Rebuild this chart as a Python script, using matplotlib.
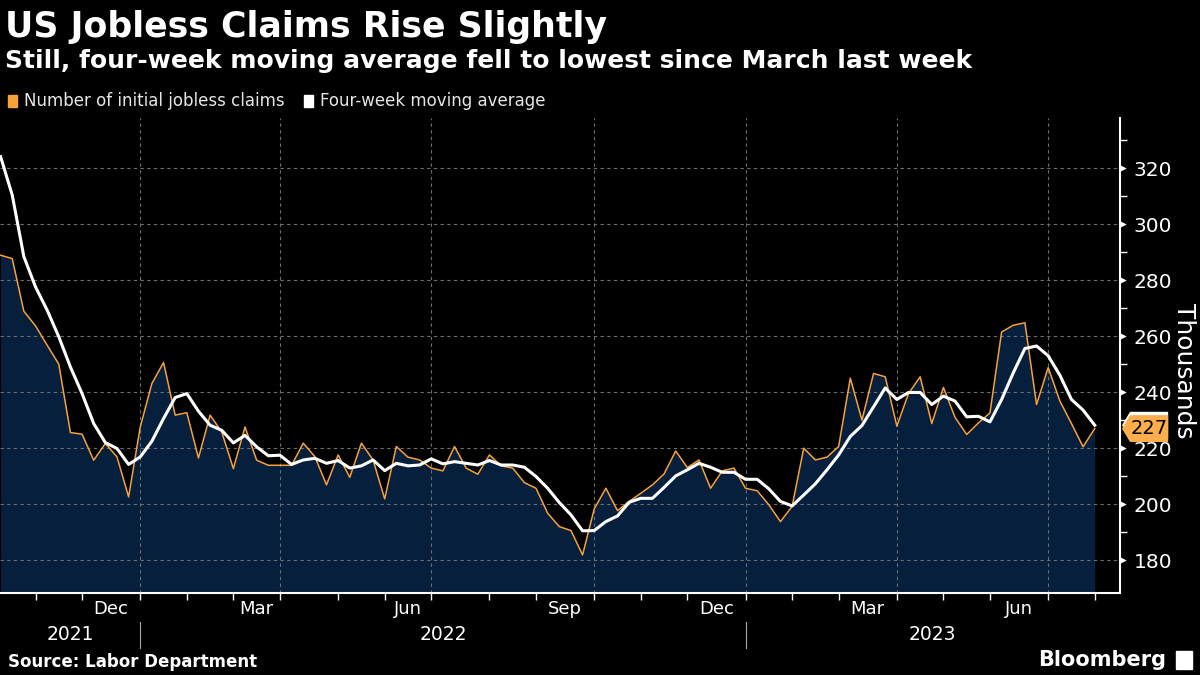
import numpy as np
import pandas as pd
import matplotlib
matplotlib.use("Agg")
import matplotlib.pyplot as plt
from matplotlib.patches import Polygon
from matplotlib.transforms import blended_transform_factory

# weekly initial jobless claims (thousands), weeks ending Saturday from 2021-10-09
claims = [288.9, 287.7, 268.9, 263.7, 256.8, 250.0, 225.6, 225.0, 215.7, 221.7,
          216.9, 202.6, 227.6, 243.1, 250.6, 231.8, 232.7, 216.5, 231.8, 225.8,
          212.7, 227.6, 215.7, 213.9, 213.9, 213.9, 221.8, 217.0, 206.9, 217.6,
          209.6, 221.8, 215.8, 201.9, 220.6, 216.8, 215.8, 212.9, 211.9, 220.6,
          212.9, 210.7, 217.6, 213.7, 212.9, 207.7, 205.7, 196.8, 192.0, 190.6,
          181.9, 198.3, 205.7, 197.7, 201.0, 203.9, 206.9, 210.8, 219.0, 213.1,
          215.8, 205.7, 211.9, 212.9, 205.7, 204.8, 199.8, 193.8, 199.2, 220.0,
          215.8, 216.8, 220.6, 245.0, 230.0, 246.7, 245.5, 227.9, 239.5, 245.5,
          228.8, 241.7, 231.0, 224.9, 229.0, 232.6, 261.5, 263.9, 264.8, 235.6,
          248.8, 236.9, 228.8, 220.5, 227.0]
moving_avg = [324.1, 310.4, 288.4, 277.6, 269.3, 259.8, 249.0, 239.5, 228.8, 222.0,
              219.9, 214.2, 216.9, 222.5, 230.6, 238.1, 239.5, 233.2, 228.2, 226.4,
              221.9, 224.6, 220.5, 217.3, 217.5, 214.2, 215.8, 216.4, 214.6, 215.6,
              212.9, 213.7, 215.8, 212.0, 214.6, 213.7, 214.0, 216.2, 214.4, 215.2,
              214.6, 214.0, 215.6, 214.0, 214.0, 213.2, 209.9, 205.7, 200.6, 196.2,
              190.5, 190.6, 193.8, 195.8, 200.7, 202.1, 202.1, 206.0, 210.1, 212.3,
              214.6, 213.2, 211.4, 211.4, 208.9, 208.9, 205.5, 201.0, 199.4, 203.3,
              207.3, 212.3, 217.6, 224.2, 228.1, 234.8, 241.5, 237.4, 239.9, 239.9,
              235.6, 238.6, 236.8, 231.2, 231.4, 229.4, 237.4, 246.9, 255.6, 256.5,
              253.0, 246.1, 237.4, 233.6, 228.2]
first_week = "2021-10-09"
y_ticks = [180, 200, 220, 240, 260, 280, 300, 320]
last_label = "227"

orange = "#f5a23a"
tag_orange = "#ffad4d"
navy = "#061f3d"
grid_c = "#6e6e6e"

weeks = pd.date_range(first_week, periods=len(claims), freq="7D")
x = np.arange(len(claims))

fig = plt.figure(figsize=(12, 6.75), dpi=100, facecolor="black")
ax = fig.add_axes([0, 82 / 675, 1120 / 1200, 475 / 675])
ax.set_facecolor("black")

ymin, ymax = 168.3, 337.9
ax.fill_between(x, claims, ymin, color=navy, lw=0, zorder=1)
ax.plot(x, claims, color=orange, lw=1.1, zorder=3)
ax.plot(x, moving_avg, color="white", lw=2.2, zorder=4)
ax.set_ylim(ymin, ymax)
ax.set_xlim(-0.05, 96.17)

# month ticks sit on the last weekly point on or before the 1st of each month
months = pd.date_range("2021-11-01", "2023-08-01", freq="MS")
month_idx = [int(np.searchsorted(weeks, m, side="right") - 1) for m in months]
ax.set_xticks(month_idx, minor=True)
lab_pos, lab_txt = [], []
for i, m in enumerate(months[:-1]):
    if m.month in (12, 3, 6, 9):
        lab_pos.append((month_idx[i] + month_idx[i + 1]) / 2)
        lab_txt.append(m.strftime("%b"))
ax.set_xticks(lab_pos)
ax.set_xticklabels(lab_txt)
ax.tick_params(axis="x", which="major", length=0, pad=5, colors="white", labelsize=13)
ax.tick_params(axis="x", which="minor", length=5, width=1, colors="white")

for i, m in enumerate(months):
    if m.month in (1, 4, 7, 10):
        ax.axvline(month_idx[i], color=grid_c, lw=0.8, ls=(0, (3, 3)), zorder=2)

# year row
trans = blended_transform_factory(ax.transData, ax.transAxes)
jan_idx = [month_idx[i] for i, m in enumerate(months) if m.month == 1]
bounds = [ax.get_xlim()[0]] + jan_idx + [ax.get_xlim()[1]]
for k, yr in enumerate(["2021", "2022", "2023"]):
    ax.text((bounds[k] + bounds[k + 1]) / 2, -0.088, yr, transform=trans, color="white",
            fontsize=13.5, ha="center", va="center")
for j in jan_idx:
    ax.plot([j, j], [-0.061, -0.115], transform=trans, color="#aaaaaa", lw=0.8, clip_on=False)

# right y axis
ax.yaxis.tick_right()
ax.set_yticks(y_ticks)
ax.set_yticks([v + 10 for v in y_ticks[:-1]] + [330], minor=True)
ax.tick_params(axis="y", which="major", length=0, pad=10, colors="white", labelsize=14.5)
ax.tick_params(axis="y", which="minor", length=5, width=1, colors="white")
ax.grid(axis="y", which="major", color=grid_c, lw=0.8, ls=(0, (3, 3)), zorder=2)
ytrans = blended_transform_factory(ax.transAxes, ax.transData)
ax.scatter([1.003] * len(y_ticks), y_ticks, marker=">", s=22, color="white",
           transform=ytrans, clip_on=False, zorder=5, lw=0)
ax.text(1.046, 0.467, "Thousands", transform=ax.transAxes, rotation=270, color="white",
        fontsize=18, ha="left", va="center")

for s in ["top", "left"]:
    ax.spines[s].set_visible(False)
ax.spines["right"].set_color("white")
ax.spines["right"].set_linewidth(1.5)
ax.spines["bottom"].set_color("white")
ax.spines["bottom"].set_linewidth(1.5)


# value tags: white one for the moving average sits just behind the orange one
def tag(value, color, z):
    h = 4.8
    pts = [(1.0018, value), (1.009, value + h), (1.043, value + h),
           (1.043, value - h), (1.009, value - h)]
    ax.add_patch(Polygon(pts, closed=True, transform=ytrans, color=color,
                         clip_on=False, zorder=z, lw=0))


tag(moving_avg[-1], "white", 6)
tag(claims[-1], tag_orange, 7)
ax.text(1.0265, claims[-1], last_label, transform=ytrans, color="black", fontsize=14,
        ha="center", va="center", zorder=8)

# titles, legend, footer
fig.text(0.004, 1 - 37 / 675, "US Jobless Claims Rise Slightly", color="white",
         fontsize=25, fontweight="bold", ha="left", va="baseline")
fig.text(0.004, 1 - 68 / 675, "Still, four-week moving average fell to lowest since March last week",
         color="white", fontsize=18, fontweight="bold", ha="left", va="baseline")
fig.patches.append(plt.Rectangle((8 / 1200, 1 - 107 / 675), 9 / 1200, 12 / 675,
                                 transform=fig.transFigure, color=orange))
fig.text(24 / 1200, 1 - 101 / 675, "Number of initial jobless claims", color="#e6e6e6",
         fontsize=12, ha="left", va="center")
fig.patches.append(plt.Rectangle((304 / 1200, 1 - 107 / 675), 9 / 1200, 12 / 675,
                                 transform=fig.transFigure, color="white"))
fig.text(320 / 1200, 1 - 101 / 675, "Four-week moving average", color="#e6e6e6",
         fontsize=12, ha="left", va="center")
fig.text(8 / 1200, 1 - 662 / 675, "Source: Labor Department", color="white",
         fontsize=12, fontweight="bold", ha="left", va="center")
fig.text(1166 / 1200, 1 - 660 / 675, "Bloomberg", color="white", fontsize=15,
         fontweight="bold", ha="right", va="center")
fig.patches.append(plt.Rectangle((1176 / 1200, 1 - 669 / 675), 16 / 1200, 18 / 675,
                                 transform=fig.transFigure, color="white"))

fig.savefig("out.png", dpi=100, facecolor="black")
